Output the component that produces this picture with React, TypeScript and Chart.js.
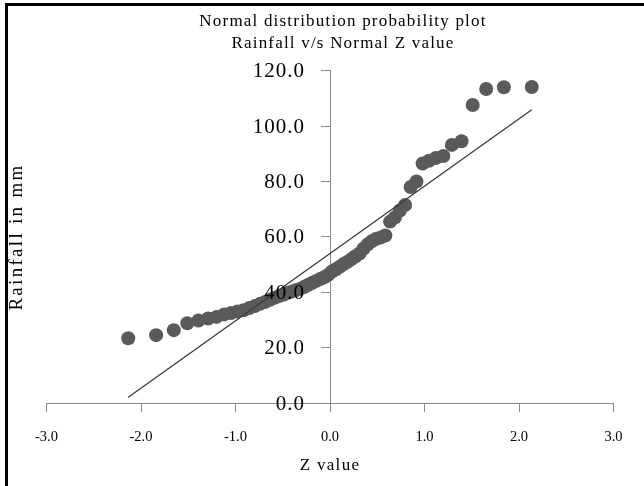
import React, { useEffect, useRef } from "react";
import { Chart, registerables } from "chart.js";

Chart.register(...registerables);

// Normal Z quantiles (x)
const zValues = [
  -2.135, -1.84, -1.653, -1.51, -1.392, -1.29, -1.2, -1.12, -1.047, -0.98,
  -0.915, -0.853, -0.795, -0.74, -0.687, -0.636, -0.586, -0.538, -0.49, -0.446,
  -0.4, -0.356, -0.313, -0.27, -0.229, -0.187, -0.145, -0.103, -0.062, -0.021,
  0.021, 0.062, 0.103, 0.145, 0.187, 0.229, 0.27, 0.313, 0.356, 0.4,
  0.446, 0.49, 0.538, 0.586, 0.636, 0.687, 0.74, 0.795, 0.853, 0.915,
  0.98, 1.047, 1.12, 1.2, 1.29, 1.392, 1.51, 1.653, 1.84, 2.135,
];

// Sorted rainfall (mm)
const rainfall = [
  23.4, 24.5, 26.3, 28.8, 29.8, 30.5, 31.1, 32, 32.5, 33,
  33.5, 34.3, 35, 35.8, 36.5, 37.3, 38, 38.6, 39.2, 39.8,
  40.3, 40.8, 41.3, 42, 42.7, 43.4, 44.1, 44.8, 45.4, 46.2,
  47.5, 48.3, 49.2, 50.2, 51, 52, 53, 54, 55.8, 57.3,
  58.5, 59.3, 59.8, 60.5, 65.5, 67, 69.5, 71.5, 78, 80,
  86.5, 87.5, 88.5, 89.2, 93.2, 94.5, 107.6, 113.4, 114, 114.1,
];

// Fitted normal line end points
const trendZ = [-2.135, 2.135];
const trendRain = [2.1, 105.9];

const xTickValues = [-3, -2, -1, 0, 1, 2, 3];
const yTickValues = [0, 20, 40, 60, 80, 100, 120];

const titleLines = ["Normal distribution probability plot", "Rainfall v/s Normal Z value"];
const xTitle = "Z value";
const yTitle = "Rainfall in mm";

const FONT = '"Liberation Serif", "Times New Roman", serif';

const textPlugin = {
  id: "customTexts",
  beforeDraw(chart: any) {
    chart.ctx.letterSpacing = "0px";
  },
  afterDatasetsDraw(chart: any) {
    // y tick labels (z = 1) are drawn after this hook: space and shift them
    const ctx = chart.ctx;
    ctx.save();
    ctx.letterSpacing = "1px";
    ctx.translate(-25, 1);
  },
  afterDraw(chart: any) {
    const ctx = chart.ctx;
    ctx.restore();
    ctx.save();
    ctx.fillStyle = "#000";
    ctx.textAlign = "center";
    ctx.textBaseline = "middle";
    ctx.font = `17px ${FONT}`;
    ctx.letterSpacing = "1.2px";
    ctx.fillText(titleLines[0], 343, 22);
    ctx.fillText(titleLines[1], 343, 43.5);
    ctx.letterSpacing = "1.3px";
    ctx.fillText(xTitle, 330, 466);
    ctx.translate(17, 237);
    ctx.rotate(-Math.PI / 2);
    ctx.font = `19px ${FONT}`;
    ctx.letterSpacing = "2.3px";
    ctx.fillText(yTitle, 0, 0);
    ctx.restore();
    ctx.letterSpacing = "0px";
  },
};

export default function App() {
  const ref = useRef<HTMLCanvasElement>(null);

  useEffect(() => {
    if (!ref.current) return;
    const chart = new Chart(ref.current, {
      type: "scatter",
      data: {
        datasets: [
          {
            type: "line",
            label: "Normal fit",
            data: trendZ.map((z, i) => ({ x: z, y: trendRain[i] })),
            borderColor: "#3a3a3a",
            borderWidth: 1.3,
            pointRadius: 0,
            fill: false,
            order: 0,
          } as any,
          {
            type: "scatter",
            label: "Rainfall",
            data: zValues.map((z, i) => ({ x: z, y: rainfall[i] })),
            backgroundColor: "#5a5a5a",
            borderWidth: 0,
            pointRadius: 7,
            pointHoverRadius: 7,
            order: 1,
          },
        ],
      },
      options: {
        responsive: false,
        animation: false,
        devicePixelRatio: 1,
        layout: { padding: { left: 46.5, right: 30.5, top: 70.7, bottom: 83 } },
        plugins: {
          legend: { display: false },
          title: { display: false },
          tooltip: { enabled: false },
        },
        scales: {
          x: {
            type: "linear",
            position: { y: 0 } as any,
            min: -3,
            max: 3,
            afterBuildTicks: (s: any) => {
              s.ticks = xTickValues.map((v) => ({ value: v }));
            },
            ticks: {
              callback: (v: any) => Number(v).toFixed(1),
              font: { family: FONT, size: 14.5 },
              color: "#000",
              padding: 17,
              maxRotation: 0,
            },
            grid: {
              drawOnChartArea: false,
              drawTicks: true,
              tickLength: 8,
              color: "#8a8a8a",
            },
            border: { display: true, color: "#8a8a8a", width: 1 },
          },
          y: {
            type: "linear",
            position: { x: 0 } as any,
            min: 0,
            max: 120,
            afterBuildTicks: (s: any) => {
              s.ticks = yTickValues.map((v) => ({ value: v }));
            },
            ticks: {
              callback: (v: any) => Number(v).toFixed(1),
              font: { family: FONT, size: 21 },
              color: "#000",
              padding: 16,
              z: 1,
            },
            grid: {
              drawOnChartArea: false,
              drawTicks: true,
              tickLength: 9,
              color: "#8a8a8a",
            },
            border: { display: true, color: "#8a8a8a", width: 1 },
          },
        },
      },
      plugins: [textPlugin],
    });
    return () => chart.destroy();
  }, []);

  return (
    <div
      style={{
        position: "absolute",
        left: 0,
        top: 0,
        width: 644,
        height: 486,
        background: "#fff",
        overflow: "hidden",
      }}
    >
      <canvas ref={ref} width={644} height={486} style={{ position: "absolute", left: 0, top: 0 }} />
      <div
        style={{
          position: "absolute",
          left: 5,
          top: 3,
          width: 650,
          height: 500,
          borderTop: "3px solid #000",
          borderLeft: "3px solid #000",
          boxSizing: "border-box",
          pointerEvents: "none",
        }}
      />
    </div>
  );
}
